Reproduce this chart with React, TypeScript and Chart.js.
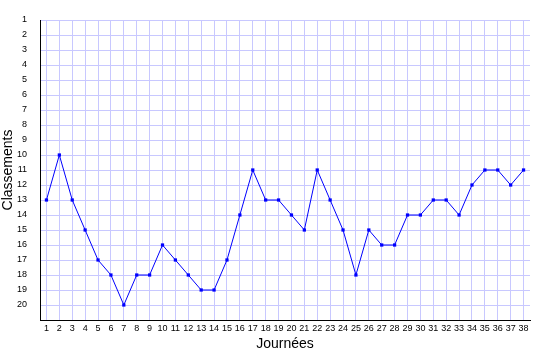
import React, { useEffect, useRef } from "react";
import { Chart, registerables } from "chart.js";

Chart.register(...registerables);

const journees: string[] = Array.from({ length: 38 }, (_, i) => String(i + 1));
const classements: number[] = [
  13, 10, 13, 15, 17, 18, 20, 18, 18, 16,
  17, 18, 19, 19, 17, 14, 11, 13, 13, 14,
  15, 11, 13, 15, 18, 15, 16, 16, 14, 14,
  13, 13, 14, 12, 11, 11, 12, 11,
];
const xTitle = "Journées";
const yTitle = "Classements";
const yMin = 1;
const yMax = 21;

export default function App() {
  const ref = useRef<HTMLCanvasElement | null>(null);
  useEffect(() => {
    if (!ref.current) return;
    const font = "'Liberation Sans', Arial, sans-serif";
    const chart = new Chart(ref.current, {
      type: "line",
      data: {
        labels: journees,
        datasets: [
          {
            data: classements,
            borderColor: "#0000ff",
            backgroundColor: "#0000ff",
            borderWidth: 1,
            pointStyle: "rect",
            pointRadius: 2.3,
            pointBorderWidth: 0,
            tension: 0,
          },
        ],
      },
      options: {
        animation: false,
        responsive: false,
        maintainAspectRatio: false,
        layout: { padding: { top: 20, right: 5, left: 0, bottom: 0 } },
        plugins: { legend: { display: false }, tooltip: { enabled: false } },
        scales: {
          x: {
            type: "category",
            offset: true,
            grid: {
              offset: false,
              color: "#c8c8ff",
              lineWidth: 1,
              drawTicks: false,
            },
            border: { color: "#000000", width: 1 },
            ticks: {
              color: "#000000",
              font: { family: font, size: 9 },
              padding: 3,
              maxRotation: 0,
              autoSkip: false,
            },
            title: {
              display: true,
              text: xTitle,
              color: "#000000",
              font: { family: font, size: 14 },
              padding: { top: 0, bottom: 7 },
            },
            afterFit: (s: any) => {
              s.height = 40;
            },
          },
          y: {
            reverse: true,
            min: yMin,
            max: yMax,
            grid: { color: "#c8c8ff", lineWidth: 1, drawTicks: false },
            border: { color: "#000000", width: 1 },
            ticks: {
              stepSize: 1,
              color: "#000000",
              font: { family: font, size: 9 },
              padding: 13,
              callback: (v: any) => (Number(v) === yMax ? "" : String(v)),
            },
            title: {
              display: true,
              text: yTitle,
              color: "#000000",
              font: { family: font, size: 14 },
              padding: { top: 0, bottom: 0 },
            },
            afterFit: (s: any) => {
              s.width = 40;
            },
          },
        },
      },
    });
    return () => chart.destroy();
  }, []);
  return (
    <div style={{ position: "absolute", left: 0, top: 0, width: 535, height: 360, background: "#ffffff" }}>
      <canvas ref={ref} width={535} height={360} style={{ width: 535, height: 360 }} />
    </div>
  );
}
